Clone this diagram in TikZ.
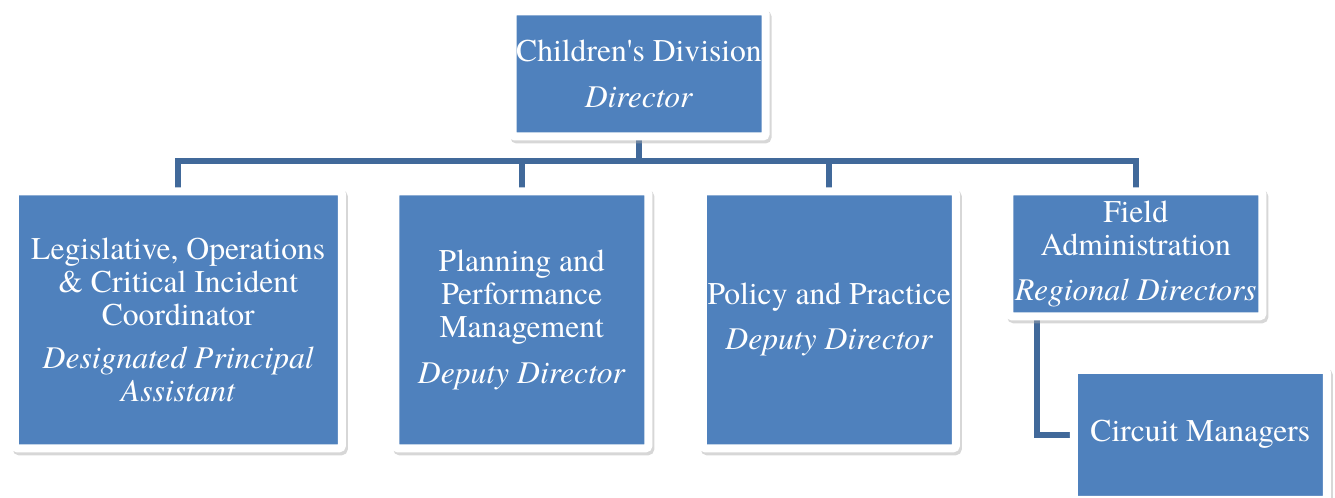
\documentclass[tikz,border=0pt]{standalone}
\usepackage{fontspec}
\IfFontExistsTF{texgyretermes-regular.otf}
  {\newfontfamily\orgfont{texgyretermes}[Extension=.otf, UprightFont=*-regular, ItalicFont=*-italic, BoldFont=*-bold]}
  {\newfontfamily\orgfont{Latin Modern Roman}}
\usetikzlibrary{positioning,backgrounds}
\definecolor{unitblue}{HTML}{4F81BD}
\definecolor{linkblue}{HTML}{41699A}
\begin{document}
\begin{tikzpicture}[
    unit/.style={fill=unitblue, draw=white, line width=0.16cm, rounded corners=0.05cm,
      text=white, align=center, inner sep=0.5pt, outer sep=0pt,
      minimum width=5.06cm, minimum height=2.5cm,
      font=\orgfont\fontsize{18}{18.8}\selectfont,
      preaction={draw=black!35, fill=black!35, opacity=0.45,
        transform canvas={shift={(0.04cm,-0.06cm)}}}},
    tall/.style={minimum height=5.14cm},
    link/.style={draw=linkblue, line width=0.12cm}
  ]
  \useasboundingbox (0,0) rectangle (26.7,-9.96);
  \node[unit] (director) at (12.78,-1.48) {Children\textquotesingle s Division\\[7pt]\textit{Director}};
  \node[unit, tall, minimum width=6.54cm] (legis) at (3.565,-6.395)
    {Legislative, Operations\\\& Critical Incident\\Coordinator\\[6pt]\textit{Designated Principal}\\\textit{Assistant}};
  \node[unit, tall, right=1.07cm of legis] (planning)
    {Planning and\\Performance\\Management\\[7pt]\textit{Deputy Director}};
  \node[unit, tall, right=1.09cm of planning] (policy)
    {Policy and Practice\\[7pt]\textit{Deputy Director}};
  \node[unit, right=1.07cm of policy.north east, anchor=north west] (field)
    {Field\\Administration\\[7pt]\textit{Regional Directors}};
  \node[unit, minimum height=2.6cm, below right=1.07cm and 1.29cm of field.south west] (circuit) {Circuit Managers};
  \begin{scope}[on background layer]
    \foreach \u in {legis,planning,policy,field}
      \draw[link] (director.south) -- ++(0,-0.49) -| (\u.north);
    \draw[link] ([xshift=0.55cm]field.south west) |- (circuit.west);
  \end{scope}
\end{tikzpicture}
\end{document}
